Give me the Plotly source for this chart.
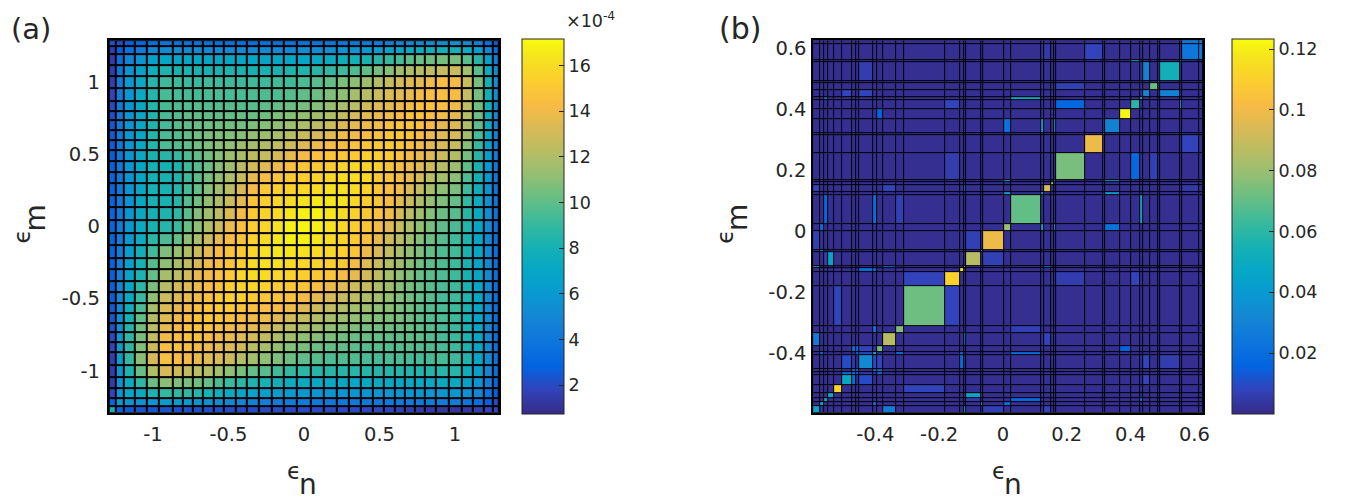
import plotly.graph_objects as go

# the page body adds an 8 px margin, so the figure is placed 8 px in and down
PAGE_OFFSET = 8
W, H = 1342, 492

# ---------------- panel (a) ----------------
# cell edges in epsilon (same for n and m)
eps_a = [-1.292, -1.247, -1.192, -1.12, -1.042, -0.96, -0.871, -0.80, -0.734, -0.668,
         -0.60, -0.53, -0.454, -0.376, -0.299, -0.216, -0.131, -0.046,
         0.046, 0.131, 0.216, 0.299, 0.376, 0.454, 0.53, 0.60, 0.668, 0.734,
         0.80, 0.871, 0.96, 1.042, 1.12, 1.192, 1.247, 1.292]

# values in units of 1e-4, row 0 = lowest epsilon_m, column 0 = lowest epsilon_n
density_a = [
    [8.0, 3.0, 2.5, 2.4, 2.4, 2.3, 2.3, 2.3, 2.2, 2.2, 2.2, 2.1, 2.1, 2.1, 2.0, 2.0, 2.0, 2.0, 2.0, 2.0, 2.0, 2.0, 1.9, 1.9, 1.8, 1.7, 1.6, 1.5, 1.4, 1.3, 1.2, 1.3, 1.6, 1.8, 1.9],
    [3.0, 6.0, 5.8, 5.6, 5.8, 6.3, 6.3, 6.1, 5.9, 5.6, 5.3, 5.1, 4.9, 4.7, 4.6, 4.4, 4.4, 4.3, 4.2, 4.2, 4.2, 4.2, 4.2, 4.1, 4.2, 4.2, 4.2, 4.2, 4.3, 4.3, 4.3, 4.0, 3.6, 2.8, 2.0],
    [1.8, 5.8, 7.0, 7.3, 8.3, 8.9, 8.8, 8.8, 8.5, 8.0, 7.7, 7.3, 7.0, 6.7, 6.5, 6.3, 6.1, 6.0, 5.9, 5.8, 5.8, 5.8, 5.8, 5.8, 5.8, 5.8, 5.8, 5.9, 5.9, 5.9, 6.0, 5.6, 4.9, 3.7, 2.7],
    [1.5, 5.6, 7.3, 8.8, 10.2, 11.0, 10.8, 10.6, 10.4, 10.1, 9.5, 9.1, 8.7, 8.3, 8.0, 7.8, 7.4, 7.3, 7.2, 7.1, 7.1, 7.0, 7.1, 7.2, 7.1, 7.0, 7.1, 7.1, 7.1, 7.2, 7.2, 6.6, 5.7, 4.4, 3.1],
    [1.5, 5.8, 8.3, 10.2, 12.0, 13.2, 12.9, 12.5, 12.3, 12.1, 11.7, 11.1, 10.6, 10.1, 9.8, 9.3, 9.0, 8.7, 8.6, 8.6, 8.5, 8.5, 8.5, 8.5, 8.5, 8.5, 8.4, 8.4, 8.5, 8.5, 8.5, 7.6, 6.5, 4.9, 3.5],
    [1.6, 6.3, 8.9, 11.0, 13.2, 14.5, 14.4, 14.1, 13.7, 13.5, 13.3, 12.8, 12.2, 11.7, 11.1, 10.7, 10.3, 10.0, 9.8, 9.6, 9.6, 9.6, 9.5, 9.4, 9.5, 9.5, 9.4, 9.4, 9.4, 9.4, 9.2, 8.3, 7.0, 5.3, 3.8],
    [1.8, 6.3, 8.8, 10.8, 12.9, 14.4, 14.6, 14.5, 14.2, 13.9, 13.6, 13.4, 13.0, 12.3, 11.8, 11.3, 10.9, 10.6, 10.3, 10.1, 10.0, 9.9, 9.8, 9.8, 9.7, 9.7, 9.8, 9.7, 9.6, 9.4, 9.2, 8.2, 7.0, 5.3, 3.7],
    [2.0, 6.1, 8.8, 10.6, 12.5, 14.1, 14.5, 14.7, 14.7, 14.3, 14.0, 13.8, 13.5, 13.1, 12.5, 12.0, 11.6, 11.2, 10.9, 10.7, 10.4, 10.2, 10.2, 10.1, 10.0, 10.0, 10.0, 10.0, 9.7, 9.4, 9.1, 8.2, 7.0, 5.2, 3.7],
    [2.2, 5.9, 8.5, 10.4, 12.3, 13.7, 14.2, 14.7, 14.8, 14.8, 14.5, 14.1, 13.9, 13.7, 13.3, 12.8, 12.3, 11.9, 11.6, 11.2, 10.9, 10.7, 10.5, 10.4, 10.4, 10.3, 10.2, 10.0, 9.8, 9.4, 9.1, 8.2, 6.9, 5.2, 3.7],
    [2.4, 5.6, 8.0, 10.1, 12.1, 13.5, 13.9, 14.3, 14.8, 15.0, 14.9, 14.6, 14.3, 14.1, 14.0, 13.6, 13.1, 12.7, 12.2, 11.8, 11.5, 11.2, 10.9, 10.8, 10.7, 10.6, 10.3, 10.0, 9.7, 9.5, 9.2, 8.1, 6.9, 5.2, 3.6],
    [2.5, 5.3, 7.7, 9.5, 11.7, 13.3, 13.6, 14.0, 14.5, 14.9, 15.1, 15.1, 14.8, 14.6, 14.4, 14.3, 14.0, 13.4, 12.9, 12.5, 12.1, 11.7, 11.5, 11.2, 11.0, 10.7, 10.4, 10.0, 9.7, 9.5, 9.2, 8.2, 6.9, 5.1, 3.6],
    [2.6, 5.1, 7.3, 9.1, 11.1, 12.8, 13.4, 13.8, 14.1, 14.6, 15.1, 15.3, 15.4, 15.1, 14.9, 14.8, 14.6, 14.2, 13.7, 13.2, 12.7, 12.4, 12.0, 11.7, 11.2, 10.8, 10.4, 10.1, 9.8, 9.4, 9.2, 8.3, 6.9, 5.1, 3.6],
    [2.7, 4.9, 7.0, 8.7, 10.6, 12.2, 13.0, 13.5, 13.9, 14.3, 14.8, 15.4, 15.6, 15.7, 15.5, 15.2, 15.0, 14.9, 14.5, 13.9, 13.5, 13.0, 12.6, 12.0, 11.5, 10.9, 10.5, 10.2, 9.8, 9.5, 9.2, 8.2, 6.9, 5.1, 3.6],
    [2.8, 4.7, 6.7, 8.3, 10.1, 11.7, 12.3, 13.1, 13.7, 14.1, 14.6, 15.1, 15.7, 16.0, 16.0, 15.7, 15.5, 15.3, 15.1, 14.8, 14.2, 13.7, 13.0, 12.4, 11.7, 11.2, 10.7, 10.2, 9.9, 9.6, 9.2, 8.1, 6.9, 5.1, 3.6],
    [2.9, 4.6, 6.5, 8.0, 9.8, 11.1, 11.8, 12.5, 13.3, 14.0, 14.4, 14.9, 15.5, 16.0, 16.2, 16.3, 16.0, 15.7, 15.6, 15.4, 15.0, 14.2, 13.5, 12.7, 12.1, 11.5, 10.9, 10.4, 10.0, 9.6, 9.2, 8.2, 6.8, 5.1, 3.6],
    [3.0, 4.4, 6.3, 7.8, 9.3, 10.7, 11.3, 12.0, 12.8, 13.6, 14.3, 14.8, 15.2, 15.7, 16.3, 16.5, 16.5, 16.3, 16.0, 15.8, 15.4, 14.8, 13.9, 13.2, 12.5, 11.8, 11.2, 10.7, 10.1, 9.6, 9.3, 8.2, 6.9, 5.1, 3.6],
    [3.0, 4.4, 6.1, 7.4, 8.7, 9.5, 10.1, 11.1, 11.9, 12.8, 13.7, 14.4, 14.8, 15.5, 16.0, 16.5, 16.8, 16.8, 16.5, 16.0, 15.6, 15.1, 14.5, 13.7, 12.9, 12.2, 11.6, 10.9, 10.3, 9.8, 9.3, 8.3, 7.0, 5.2, 3.7],
    [3.0, 4.3, 6.0, 7.3, 8.2, 8.5, 9.1, 10.2, 11.1, 12.1, 12.9, 13.8, 14.6, 15.3, 15.7, 16.3, 16.8, 17.0, 16.8, 16.3, 15.7, 15.3, 14.9, 14.2, 13.4, 12.7, 11.9, 11.2, 10.6, 10.0, 9.5, 8.4, 7.0, 5.3, 3.7],
    [3.0, 4.2, 5.9, 7.2, 8.1, 8.3, 8.8, 9.9, 10.8, 11.6, 12.4, 13.3, 14.2, 15.1, 15.6, 16.0, 16.5, 16.8, 16.8, 16.5, 16.0, 15.5, 15.0, 14.6, 14.0, 13.1, 12.3, 11.6, 10.9, 10.3, 9.8, 8.6, 7.2, 5.4, 3.8],
    [3.0, 4.2, 5.8, 7.1, 8.1, 8.1, 8.6, 9.7, 10.4, 11.2, 12.0, 12.8, 13.6, 14.8, 15.4, 15.8, 16.0, 16.3, 16.5, 16.5, 16.3, 15.7, 15.2, 14.8, 14.3, 13.6, 12.8, 12.0, 11.3, 10.7, 10.1, 8.9, 7.4, 5.5, 3.9],
    [3.0, 4.2, 5.8, 7.1, 8.0, 8.1, 8.5, 9.4, 10.1, 10.9, 11.6, 12.3, 13.2, 14.2, 15.0, 15.4, 15.6, 15.7, 16.0, 16.3, 16.2, 16.0, 15.5, 14.9, 14.4, 14.0, 13.3, 12.5, 11.8, 11.1, 10.6, 9.2, 7.6, 5.6, 3.9],
    [2.9, 4.2, 5.8, 7.0, 8.0, 8.1, 8.4, 9.2, 9.9, 10.6, 11.2, 12.0, 12.7, 13.7, 14.2, 14.8, 15.1, 15.3, 15.5, 15.7, 16.0, 16.0, 15.7, 15.1, 14.6, 14.1, 13.7, 13.1, 12.3, 11.7, 11.0, 9.6, 7.9, 5.8, 4.0],
    [2.8, 4.2, 5.8, 7.1, 8.0, 8.0, 8.3, 9.2, 9.7, 10.3, 11.0, 11.6, 12.3, 13.0, 13.5, 13.9, 14.5, 14.9, 15.0, 15.2, 15.5, 15.7, 15.6, 15.4, 14.8, 14.3, 13.9, 13.5, 13.0, 12.2, 11.5, 10.0, 8.2, 6.0, 4.2],
    [2.7, 4.1, 5.8, 7.2, 8.2, 8.6, 9.0, 9.6, 10.0, 10.5, 10.9, 11.5, 11.8, 12.4, 12.7, 13.2, 13.7, 14.2, 14.6, 14.8, 14.9, 15.1, 15.4, 15.3, 15.1, 14.6, 14.1, 13.8, 13.4, 12.8, 12.1, 10.5, 8.6, 6.3, 4.3],
    [2.6, 4.2, 5.8, 7.1, 8.5, 9.5, 9.7, 10.0, 10.4, 10.7, 11.0, 11.2, 11.5, 11.7, 12.1, 12.5, 12.9, 13.4, 14.0, 14.3, 14.4, 14.6, 14.8, 15.1, 15.1, 14.9, 14.5, 14.0, 13.6, 13.3, 12.7, 10.9, 9.0, 6.6, 4.5],
    [2.5, 4.2, 5.8, 7.0, 8.5, 9.5, 9.7, 10.0, 10.3, 10.6, 10.7, 10.8, 10.9, 11.2, 11.5, 11.8, 12.2, 12.7, 13.1, 13.6, 14.0, 14.1, 14.3, 14.6, 14.9, 15.0, 14.8, 14.3, 13.9, 13.5, 13.1, 11.6, 9.4, 6.9, 4.7],
    [2.4, 4.2, 5.8, 7.1, 8.4, 9.4, 9.8, 10.0, 10.2, 10.3, 10.4, 10.4, 10.5, 10.7, 10.9, 11.2, 11.6, 11.9, 12.3, 12.8, 13.3, 13.7, 13.9, 14.1, 14.5, 14.8, 14.8, 14.7, 14.2, 13.7, 13.4, 12.0, 10.0, 7.3, 4.9],
    [2.2, 4.2, 5.9, 7.1, 8.4, 9.4, 9.7, 10.0, 10.0, 10.0, 10.0, 10.1, 10.2, 10.2, 10.4, 10.7, 10.9, 11.2, 11.6, 12.0, 12.5, 13.1, 13.5, 13.8, 14.0, 14.3, 14.7, 14.7, 14.5, 14.1, 13.6, 12.2, 10.3, 7.6, 5.1],
    [2.0, 4.3, 5.9, 7.1, 8.5, 9.4, 9.6, 9.7, 9.8, 9.7, 9.7, 9.8, 9.8, 9.9, 10.0, 10.1, 10.3, 10.6, 10.9, 11.3, 11.8, 12.3, 13.0, 13.4, 13.6, 13.9, 14.2, 14.5, 14.6, 14.4, 14.0, 12.4, 10.4, 7.8, 5.3],
    [1.8, 4.3, 5.9, 7.2, 8.5, 9.4, 9.4, 9.4, 9.4, 9.5, 9.5, 9.4, 9.5, 9.6, 9.6, 9.6, 9.8, 10.0, 10.3, 10.7, 11.1, 11.7, 12.2, 12.8, 13.3, 13.5, 13.7, 14.1, 14.4, 14.5, 14.3, 12.6, 10.5, 7.8, 5.4],
    [1.6, 4.3, 6.0, 7.2, 8.5, 9.2, 9.2, 9.1, 9.1, 9.2, 9.2, 9.2, 9.2, 9.2, 9.2, 9.3, 9.3, 9.5, 9.8, 10.1, 10.6, 11.0, 11.5, 12.1, 12.7, 13.1, 13.4, 13.6, 14.0, 14.3, 14.2, 12.8, 10.6, 7.9, 5.5],
    [1.5, 4.0, 5.6, 6.6, 7.6, 8.3, 8.2, 8.2, 8.2, 8.1, 8.2, 8.3, 8.2, 8.1, 8.2, 8.2, 8.3, 8.4, 8.6, 8.9, 9.2, 9.6, 10.0, 10.5, 10.9, 11.6, 12.0, 12.2, 12.4, 12.6, 12.8, 11.7, 9.9, 7.4, 5.1],
    [1.5, 3.6, 4.9, 5.7, 6.5, 7.0, 7.0, 7.0, 6.9, 6.9, 6.9, 6.9, 6.9, 6.9, 6.8, 6.9, 7.0, 7.0, 7.2, 7.4, 7.6, 7.9, 8.2, 8.6, 9.0, 9.4, 10.0, 10.3, 10.4, 10.5, 10.6, 9.9, 8.6, 6.5, 4.5],
    [1.5, 2.8, 3.7, 4.4, 4.9, 5.3, 5.3, 5.2, 5.2, 5.2, 5.1, 5.1, 5.1, 5.1, 5.1, 5.1, 5.2, 5.3, 5.4, 5.5, 5.6, 5.8, 6.0, 6.3, 6.6, 6.9, 7.3, 7.6, 7.8, 7.8, 7.9, 7.4, 6.5, 5.0, 3.5],
    [2.5, 2.0, 2.7, 3.1, 3.5, 3.8, 3.7, 3.7, 3.7, 3.6, 3.6, 3.6, 3.6, 3.6, 3.6, 3.6, 3.7, 3.7, 3.8, 3.9, 3.9, 4.0, 4.2, 4.3, 4.5, 4.7, 4.9, 5.1, 5.3, 5.4, 5.5, 5.1, 4.5, 3.5, 2.5],
]
crange_a = [0.73, 17.17]
ticks_a = [-1, -0.5, 0, 0.5, 1]
ticklabels_a = ["-1", "-0.5", "0", "0.5", "1"]
cbar_ticks_a = [2, 4, 6, 8, 10, 12, 14, 16]

# ---------------- panel (b) ----------------
eps_b = [-0.595, -0.573, -0.559, -0.548, -0.529, -0.503, -0.472, -0.461, -0.451, -0.407,
         -0.395, -0.376, -0.334, -0.310, -0.180, -0.135, -0.122, -0.115, -0.068, -0.061,
         0.002, 0.024, 0.120, 0.129, 0.152, 0.161, 0.168, 0.256, 0.314, 0.321,
         0.367, 0.400, 0.430, 0.439, 0.462, 0.485, 0.491, 0.554, 0.560, 0.614, 0.627]
background_b = 0.0015
diagonal_b = [0.045, 0.045, 0.045, 0.048, 0.111, 0.048, 0.02, 0.02, 0.033, 0.055,
              0.072, 0.086, 0.075, 0.072, 0.111, 0.118, 0.1, 0.086, 0.08, 0.099,
              0.08, 0.07, 0.045, 0.094, 0.078, 0.06, 0.074, 0.099, 0.06, 0.03,
              0.122, 0.059, 0.05, 0.032, 0.071, 0.05, 0.053, 0.04, 0.025, 0.025]
# (row, column, value) for the off-diagonal cells that stand out
offdiag_b = [
    (36, 8, 0.006), (8, 36, 0.006), (33, 5, 0.008), (5, 33, 0.008),
    (33, 8, 0.008), (8, 33, 0.008), (32, 2, 0.02), (2, 32, 0.02),
    (30, 10, 0.016), (10, 30, 0.016), (31, 14, 0.008), (14, 31, 0.008),
    (29, 20, 0.022), (20, 29, 0.022), (32, 21, 0.045), (21, 32, 0.045),
    (26, 14, 0.006), (14, 26, 0.006), (23, 0, 0.008), (0, 23, 0.008),
    (23, 11, 0.008), (11, 23, 0.008), (23, 16, 0.02), (16, 23, 0.02),
    (21, 2, 0.018), (2, 21, 0.018), (21, 9, 0.02), (9, 21, 0.02),
    (21, 12, 0.007), (12, 21, 0.007), (22, 20, 0.045), (20, 22, 0.045),
    (25, 20, 0.04), (20, 25, 0.04), (22, 29, 0.04), (29, 22, 0.04),
    (29, 25, 0.04), (25, 29, 0.04), (36, 33, 0.03), (33, 36, 0.03),
    (37, 31, 0.045), (31, 37, 0.045), (31, 26, 0.018), (26, 31, 0.018),
    (34, 26, 0.007), (26, 34, 0.007), (38, 27, 0.008), (27, 38, 0.008),
    (38, 23, 0.005), (23, 38, 0.005), (19, 0, 0.007), (0, 19, 0.007),
    (20, 1, 0.02), (1, 20, 0.02), (18, 1, 0.04), (1, 18, 0.04),
    (17, 3, 0.045), (3, 17, 0.045), (16, 0, 0.04), (0, 16, 0.04),
    (15, 8, 0.02), (8, 15, 0.02), (13, 4, 0.008), (4, 13, 0.008),
    (14, 13, 0.008), (13, 14, 0.008), (12, 9, 0.022), (9, 12, 0.022),
    (11, 0, 0.027), (0, 11, 0.027), (10, 6, 0.02), (6, 10, 0.02),
    (10, 7, 0.02), (7, 10, 0.02), (10, 8, 0.008), (8, 10, 0.008),
    (9, 1, 0.02), (1, 9, 0.02), (8, 5, 0.01), (5, 8, 0.01),
    (8, 6, 0.005), (6, 8, 0.005), (8, 9, 0.01), (9, 8, 0.01),
    (6, 5, 0.02), (5, 6, 0.02), (7, 6, 0.02), (6, 7, 0.02),
    (9, 7, 0.02), (7, 9, 0.02), (15, 9, 0.02), (9, 15, 0.02),
    (16, 11, 0.02), (11, 16, 0.02), (17, 2, 0.006), (2, 17, 0.006),
    (19, 17, 0.007), (17, 19, 0.007), (38, 39, 0.025), (39, 38, 0.025),
]
crange_b = [0.0, 0.1233]
ticks_b = [-0.4, -0.2, 0, 0.2, 0.4, 0.6]
ticklabels_b = ["-0.4", "-0.2", "0", "0.2", "0.4", "0.6"]
cbar_ticks_b = [0.02, 0.04, 0.06, 0.08, 0.1, 0.12]
cbar_labels_b = ["0.02", "0.04", "0.06", "0.08", "0.1", "0.12"]

# MATLAB parula
parula = [
    [0.0, "#352a87"], [0.0635, "#3243ba"], [0.127, "#0363e1"], [0.1905, "#0d75dc"],
    [0.254, "#1485d4"], [0.3175, "#0998d1"], [0.381, "#06a7c6"], [0.4444, "#15b1b4"],
    [0.508, "#38b99e"], [0.5714, "#65be86"], [0.635, "#92bf73"], [0.698, "#b7bd64"],
    [0.762, "#d9ba56"], [0.825, "#f8bb44"], [0.889, "#fcce2e"], [0.952, "#f5e41d"],
    [1.0, "#f9fb0e"],
]

n_b = len(eps_b) - 1
z_b = [[background_b] * n_b for _ in range(n_b)]
for k, v in enumerate(diagonal_b):
    z_b[k][k] = v
for r, c, v in offdiag_b:
    z_b[r][c] = v

FONT = "DejaVu Sans"
INK = "#262626"


def px(x):  # page pixel -> paper x
    return (x - PAGE_OFFSET) / W


def py(y):  # page pixel -> paper y
    return 1 - (y - PAGE_OFFSET) / H


# page-pixel boxes of the two plots
ax_a = (109.3, 501.7)
ax_b = (817.3, 1209.3)
top, bottom = 37.3, 412.3
ydom = [py(bottom), py(top)]


def cbar(left, tickvals, ticktext):
    return dict(
        x=px(left), xanchor="left", xpad=0, ypad=0,
        y=py((top + bottom) / 2), yanchor="middle",
        len=bottom - top, lenmode="pixels", thickness=42, thicknessmode="pixels",
        outlinewidth=1, outlinecolor=INK,
        ticks="inside", ticklen=5, tickcolor=INK,
        tickvals=tickvals, ticktext=ticktext,
        tickfont=dict(family=FONT, size=17.5, color=INK),
    )


fig = go.Figure()
fig.add_trace(go.Heatmap(
    x=eps_a, y=eps_a, z=density_a, colorscale=parula,
    zmin=crange_a[0], zmax=crange_a[1], xgap=2, ygap=2,
    colorbar=cbar(524.7, cbar_ticks_a, [str(t) for t in cbar_ticks_a]),
    xaxis="x", yaxis="y",
))
fig.add_trace(go.Heatmap(
    x=eps_b, y=eps_b, z=z_b, colorscale=parula,
    zmin=crange_b[0], zmax=crange_b[1], xgap=1, ygap=1,
    colorbar=cbar(1238.3, cbar_ticks_b, cbar_labels_b),
    xaxis="x2", yaxis="y2",
))

tickfont = dict(family=FONT, size=19.5, color=INK)
common = dict(showgrid=False, zeroline=False, showline=True, mirror=True,
              linecolor="black", ticks="", tickfont=tickfont)

fig.update_layout(
    width=W, height=H,
    margin=dict(l=0, r=0, t=0, b=0),
    paper_bgcolor="white", plot_bgcolor="black",
    font=dict(family=FONT, color=INK),
    xaxis=dict(domain=[px(ax_a[0]), px(ax_a[1])], range=[eps_a[0], eps_a[-1]],
               tickvals=ticks_a, ticktext=ticklabels_a, anchor="y",
               linewidth=2, ticklabelstandoff=3, **common),
    yaxis=dict(domain=ydom, range=[eps_a[0], eps_a[-1]],
               tickvals=ticks_a, ticktext=ticklabels_a, anchor="x",
               linewidth=2, ticklabelstandoff=3, **common),
    xaxis2=dict(domain=[px(ax_b[0]), px(ax_b[1])], range=[eps_b[0], eps_b[-1]],
                tickvals=ticks_b, ticktext=ticklabels_b, anchor="y2",
                linewidth=1.5, ticklabelstandoff=3, **common),
    yaxis2=dict(domain=ydom, range=[eps_b[0], eps_b[-1]],
                tickvals=ticks_b, ticktext=ticklabels_b, anchor="x2",
                linewidth=1.5, ticklabelstandoff=1, **common),
)


def note(text, x, y, size, xanchor="center", yanchor="middle", **kw):
    fig.add_annotation(text=text, x=px(x), y=py(y), xref="paper", yref="paper",
                       xanchor=xanchor, yanchor=yanchor, showarrow=False,
                       font=dict(family=FONT, size=size, color=INK), **kw)


# panel letters
note("(a)", 31, 26, 29)
note("(b)", 744, 26, 30)
# axis titles: epsilon with a large subscript letter
for cx in (296, 1004):
    note("\u03f5", cx, 471, 23)
    note("n", cx + 14, 484, 28)
for cx in (22, 728):
    note("\u03f5", cx, 235, 23, textangle=-90)
    note("m", cx + 14, 216, 28, textangle=-90)
# colorbar exponent
note("\u00d710<sup>-4</sup>", 567, 30, 17.5, xanchor="left", yanchor="bottom")

fig.write_html("out.html")
